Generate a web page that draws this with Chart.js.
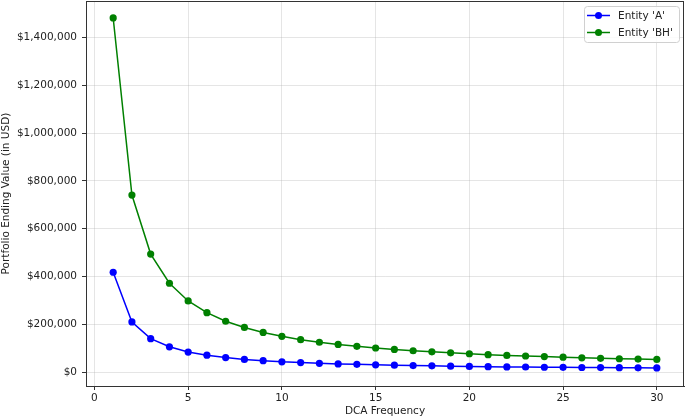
<!DOCTYPE html>
<html>
<head>
<meta charset="utf-8">
<script src="https://cdn.jsdelivr.net/npm/chart.js@4/dist/chart.umd.min.js"></script>
<style>
  html, body { margin: 0; padding: 0; background: #fff; }
  #wrap { width: 685px; height: 419px; }
</style>
</head>
<body>
<div id="wrap"><canvas id="c" width="685" height="419"></canvas></div>
<script>
// DCA frequency 1..30
const frequency = [1, 2, 3, 4, 5, 6, 7, 8, 9, 10, 11, 12, 13, 14, 15,
                   16, 17, 18, 19, 20, 21, 22, 23, 24, 25, 26, 27, 28, 29, 30];

// Portfolio ending values
const entityA = [418000, 210000, 140000, 106000, 84000, 71000, 61000, 53000, 48000, 43000,
                 40000, 37000, 34500, 32500, 30500, 29000, 27500, 26500, 25000, 24000,
                 23000, 22000, 21500, 20500, 20000, 19500, 19000, 18500, 18000, 17500];
const entityBH = [1482000, 741000, 494000, 372000, 298000, 249000, 213000, 187000, 166000, 150000,
                  136000, 125000, 116000, 108000, 101000, 95000, 89500, 85000, 81000, 77000,
                  73000, 70000, 67500, 65000, 62500, 60000, 58000, 56000, 54500, 53000];

const xTicks = [0, 5, 10, 15, 20, 25, 30];
const yTicks = [0, 200000, 400000, 600000, 800000, 1000000, 1200000, 1400000];

const seriesNames = ["Entity 'A'", "Entity 'BH'"];
const seriesColors = ['#0000ff', '#008000'];

const FONT = { family: 'DejaVu Sans', size: 10.5 };
const GRID = 'rgba(170,170,170,0.3)';
const SPINE = '#333';

const toPoints = ys => ys.map((y, i) => ({ x: frequency[i], y: y }));

// drop the label overhang padding chart.js reserves, so the plot box fills the canvas
const noOverhang = s => {
    s.paddingTop = 0; s.paddingBottom = 0; s.paddingLeft = 0; s.paddingRight = 0;
};

// box around the plot area plus a matplotlib-like legend
const frame = {
    id: 'frame',
    afterDraw(chart) {
        const { ctx, chartArea: a } = chart;
        ctx.save();
        ctx.strokeStyle = SPINE;
        ctx.lineWidth = 1;
        ctx.strokeRect(Math.round(a.left) + 0.5, Math.round(a.top) + 0.5,
                       Math.round(a.right - a.left) - 1, Math.round(a.bottom - a.top));

        // legend
        const bx = 584, by = 6, bw = 95, bh = 36;
        ctx.fillStyle = 'rgba(255,255,255,0.85)';
        ctx.strokeStyle = '#d0d0d0';
        ctx.beginPath();
        ctx.roundRect(bx + 0.5, by + 0.5, bw, bh, 3);
        ctx.fill();
        ctx.stroke();
        ctx.font = '10.5px "DejaVu Sans"';
        ctx.textBaseline = 'middle';
        seriesNames.forEach((name, i) => {
            const y = by + 9.5 + i * 17;
            ctx.strokeStyle = seriesColors[i];
            ctx.fillStyle = seriesColors[i];
            ctx.lineWidth = 1.5;
            ctx.beginPath();
            ctx.moveTo(bx + 3, y);
            ctx.lineTo(bx + 26, y);
            ctx.stroke();
            ctx.beginPath();
            ctx.arc(bx + 14.5, y, 3.5, 0, Math.PI * 2);
            ctx.fill();
            ctx.fillStyle = '#222';
            ctx.fillText(name, bx + 34, y + 0.5);
        });
        ctx.restore();
    }
};

new Chart(document.getElementById('c'), {
    type: 'line',
    data: {
        datasets: [entityA, entityBH].map((vals, i) => ({
            label: seriesNames[i],
            data: toPoints(vals),
            borderColor: seriesColors[i],
            backgroundColor: seriesColors[i],
            borderWidth: 1.5,
            pointRadius: 3.6,
            pointBorderWidth: 0,
            pointHoverRadius: 3.6,
            tension: 0,
            fill: false
        }))
    },
    options: {
        responsive: false,
        animation: false,
        events: [],
        layout: { autoPadding: false, padding: { top: 1, right: 1, bottom: 1, left: 0 } },
        plugins: { legend: { display: false }, tooltip: { enabled: false } },
        scales: {
            x: {
                type: 'linear',
                min: -0.45,
                max: 31.45,
                afterBuildTicks: s => { s.ticks = xTicks.map(v => ({ value: v })); },
                afterFit: s => { s.height = 32; noOverhang(s); },
                grid: { color: GRID, tickColor: SPINE, tickLength: 4, drawTicks: true },
                border: { display: true, color: SPINE, width: 1 },
                ticks: { color: '#222', font: FONT, padding: 2, maxRotation: 0 },
                title: { display: true, text: 'DCA Frequency', color: '#222', font: FONT, padding: 0 }
            },
            y: {
                min: -58000,
                max: 1553000,
                afterBuildTicks: s => { s.ticks = yTicks.map(v => ({ value: v })); },
                afterFit: s => { s.width = 86; noOverhang(s); },
                grid: { color: GRID, tickColor: SPINE, tickLength: 4, drawTicks: true },
                border: { display: true, color: SPINE, width: 1 },
                ticks: {
                    color: '#222', font: FONT, padding: 5,
                    callback: v => '$' + v.toLocaleString('en-US')
                },
                title: { display: true, text: 'Portfolio Ending Value (in USD)', color: '#222', font: FONT, padding: 0 }
            }
        }
    },
    plugins: [frame]
});
</script>
</body>
</html>
